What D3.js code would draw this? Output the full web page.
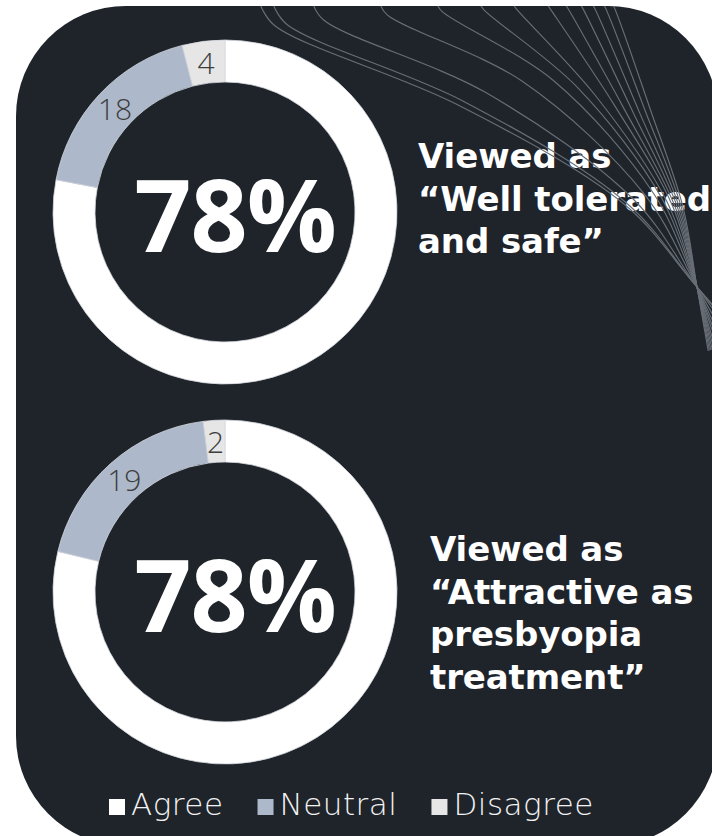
<!DOCTYPE html>
<html>
<head>
<meta charset="utf-8">
<script src="https://cdn.jsdelivr.net/npm/d3@7"></script>
<style>
  html, body { margin: 0; padding: 0; background: #ffffff; overflow: hidden; }
  svg { display: block; }
</style>
</head>
<body>
<svg id="chart" width="712" height="836"></svg>
<script>
// Survey response shares (percent of respondents)
const categories = ["Agree", "Neutral", "Disagree"];
const toleratedValues = [78, 18, 4];
const attractiveValues = [78, 19, 2];

// Caption lines shown beside each ring
const toleratedCaption = ["Viewed as", "\u201CWell tolerated", "and safe\u201D"];
const attractiveCaption = ["Viewed as", "\u201CAttractive as", "presbyopia", "treatment\u201D"];

const W = 712, H = 836;
const svg = d3.select("#chart");

const color = d3.scaleOrdinal()
  .domain(categories)
  .range(["#ffffff", "#adb9ca", "#e6e6e6"]);

const HEAD = "'Open Sans', 'Noto Sans', sans-serif";
const CAPTION = "'DejaVu Sans', 'Open Sans', sans-serif";
const LIGHT = "'DejaVu Sans', 'Open Sans', sans-serif";

// Dark rounded panel
const panel = { x: 16, y: 6, w: 702, h: 840, r: 110 };
const defs = svg.append("defs");
defs.append("clipPath").attr("id", "panel-clip")
  .append("rect")
  .attr("x", panel.x).attr("y", panel.y)
  .attr("width", panel.w).attr("height", panel.h)
  .attr("rx", panel.r).attr("ry", panel.r);

svg.append("rect")
  .attr("x", panel.x).attr("y", panel.y)
  .attr("width", panel.w).attr("height", panel.h)
  .attr("rx", panel.r).attr("ry", panel.r)
  .attr("fill", "#1f242b");

const ringLayer = svg.append("g");
const captionLayer = svg.append("g");
const fanLayer = svg.append("g");

// Donut rings
const pie = d3.pie().sort(null).value(d => d.value);
const arc = d3.arc().innerRadius(130).outerRadius(172);

function drawRing(values, cx, cy, captionLines, capX, capY) {
  const data = categories.map((c, i) => ({ category: c, value: values[i] }));
  const g = ringLayer.append("g").attr("transform", `translate(${cx},${cy})`);
  const arcs = pie(data);

  g.selectAll("path.seg")
    .data(arcs)
    .join("path")
    .attr("class", "seg")
    .attr("d", arc)
    .attr("fill", d => color(d.data.category))
    .attr("stroke", "#d4d8de")
    .attr("stroke-width", 0.8);

  // Value labels on the smaller segments
  g.selectAll("text.val")
    .data(arcs.filter(d => d.index > 0))
    .join("text")
    .attr("class", "val")
    .attr("x", d => arc.centroid(d)[0])
    .attr("y", d => arc.centroid(d)[1])
    .attr("text-anchor", "middle")
    .attr("dominant-baseline", "central")
    .attr("font-family", HEAD)
    .attr("font-weight", 300)
    .attr("font-size", 30)
    .attr("fill", "#3d3d3d")
    .text(d => d.data.value);

  // Headline share of "Agree"
  g.append("text")
    .attr("x", 10)
    .attr("y", 40)
    .attr("text-anchor", "middle")
    .attr("font-family", HEAD)
    .attr("font-weight", 700)
    .attr("font-size", 100)
    .attr("letter-spacing", -1)
    .attr("fill", "#ffffff")
    .text(`${values[0]}%`);

  // Caption, one text per line
  captionLines.forEach((line, i) => {
    captionLayer.append("text")
      .attr("x", capX)
      .attr("y", capY + i * 42.5)
      .attr("font-family", CAPTION)
      .attr("font-weight", 700)
      .attr("font-size", 34)
      .attr("letter-spacing", -0.1)
      .attr("fill", "#ffffff")
      .text(line);
  });
}

drawRing(toleratedValues, 225, 212, toleratedCaption, 418, 168);
drawRing(attractiveValues, 225, 592, attractiveCaption, 430, 561);

// Decorative fan of fine curves sweeping from the top edge to a focus at the right edge
const fan = fanLayer.attr("clip-path", "url(#panel-clip)")
  .attr("fill", "none")
  .attr("stroke", "#686e76")
  .attr("stroke-width", 1.15);
const fanStarts = [260, 273, 313, 380, 437, 480, 513, 547, 565, 580, 592, 603, 612];
const focus = [697, 287];
const lerp = (a, b, t) => a + (b - a) * t;
const curve = d3.line().curve(d3.curveCatmullRom.alpha(0.5));
fanStarts.forEach(x0 => {
  const f = (x0 - 260) / (612 - 260);
  const run = focus[0] - x0;
  const slope = 0.5 + 2.2 * Math.pow(f, 4);
  const start = [x0, 4];
  const hook = [x0 + 2 + 12 * (1 - f) * (1 - f), 6 + 1 + 18 * (1 - f) * (1 - f)];
  const a = [x0 + run * 0.45, 6 + run * 0.45 * slope];
  const b = [lerp(a[0], focus[0], 0.7), lerp(a[1], focus[1], 0.55)];
  const end = [focus[0] + (focus[0] - b[0]) * 0.8, focus[1] + (focus[1] - b[1]) * 0.8];
  fan.append("path").attr("d", curve([start, hook, a, b, focus, end]));
});

// Legend
const legend = svg.append("g").attr("transform", "translate(109,0)");
let lx = 0;
categories.forEach(c => {
  legend.append("rect")
    .attr("x", lx).attr("y", 799)
    .attr("width", 16).attr("height", 16)
    .attr("fill", color(c));
  const txt = legend.append("text")
    .attr("x", lx + 22)
    .attr("y", 815)
    .attr("font-family", LIGHT)
    .attr("font-weight", 200)
    .attr("font-size", 31)
    .attr("letter-spacing", 0.5)
    .attr("fill", "#f2f2f2")
    .text(c);
  lx += 22 + txt.node().getComputedTextLength() + 34;
});
</script>
</body>
</html>
